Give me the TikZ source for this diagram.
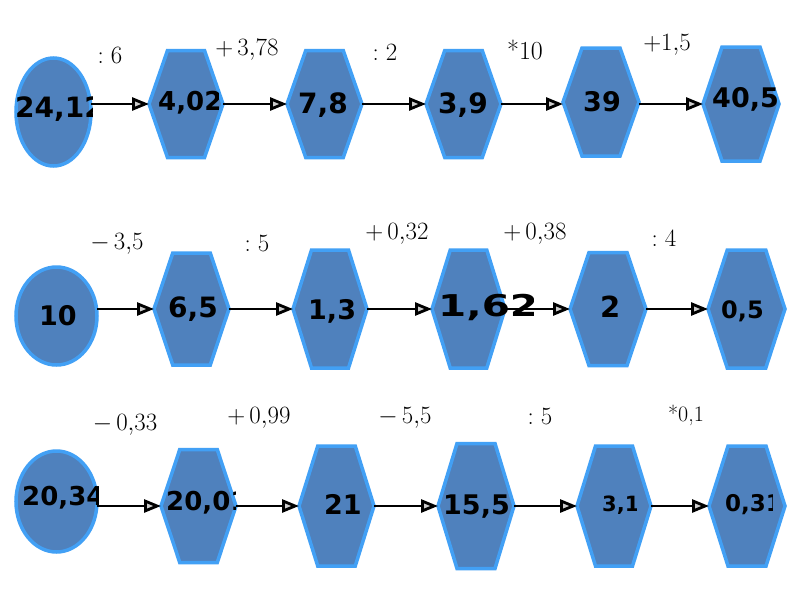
\documentclass[tikz,border=0pt]{standalone}
\usepackage{fontspec}
\newfontfamily\valfont{DejaVu Sans}
\usetikzlibrary{shapes.geometric, arrows.meta, calc}
\definecolor{shapefill}{RGB}{79,129,189}
\definecolor{shapeborder}{RGB}{66,160,245}
\tikzset{
  shapeline/.style={draw=shapeborder, fill=shapefill, line width=3.5pt, line join=miter},
  anchorbox/.style={rectangle, inner sep=0pt, outer sep=0pt},
  ovalnode/.style={ellipse, shapeline, inner sep=0pt, outer sep=0pt},
  flow/.style={line width=2.8pt, -{Triangle[length=17pt, width=13pt, fill=gray!40]}},
  oplabel/.style={inner sep=0pt, font=\fontsize{26}{26}\selectfont},
  valtext/.style={inner sep=0pt, anchor=base west},
}
\newcommand{\hexat}[5]{%
  \node[anchorbox, minimum width=#4pt, minimum height=#5pt] (#1) at (#2,#3) {};
  \path[shapeline] (#1.west) -- ($(#1.north west)!0.25!(#1.north east)$)
    -- ($(#1.north west)!0.75!(#1.north east)$) -- (#1.east)
    -- ($(#1.south west)!0.75!(#1.south east)$)
    -- ($(#1.south west)!0.25!(#1.south east)$) -- cycle;
}
\newcommand{\valat}[7]{%
  \begin{scope}
    \clip (#2-6, #3-40) rectangle (#5, #3+40);
    \node[valtext, font=\valfont\bfseries\fontsize{#4}{#4}\selectfont] (#1) at (#2, {#3+0.365*#4}) {\scalebox{#6}[1]{#7}};
  \end{scope}
}
\begin{document}
\begin{tikzpicture}[x=1pt, y=-1pt]
\fill[white] (0,0) rectangle (800,600);
\useasboundingbox (0,0) rectangle (800,600);

% row 1
\node[ovalnode, minimum width=75pt, minimum height=108pt] (e1) at (53.5,112) {};
\hexat{h1}{186}{104}{74}{107}
\hexat{h2}{324.5}{104}{75}{107}
\hexat{h3}{463.5}{104}{75}{107}
\hexat{h4}{601}{102}{76}{108}
\hexat{h5}{741}{104}{76}{114}

% row 2
\node[ovalnode, minimum width=81pt, minimum height=98pt] (e2) at (56.5,316) {};
\hexat{h6}{191.5}{309}{75}{112}
\hexat{h7}{330}{309}{74}{118}
\hexat{h8}{468.5}{309}{73}{118}
\hexat{h9}{608}{309}{76}{113}
\hexat{h10}{746.5}{309}{77}{118}

% row 3
\node[ovalnode, minimum width=81pt, minimum height=101pt] (e3) at (56.5,501.5) {};
\hexat{h11}{198.5}{506}{75}{113}
\hexat{h12}{336.5}{506}{75}{120}
\hexat{h13}{476}{506}{76}{125}
\hexat{h14}{614}{506}{74}{120}
\hexat{h15}{747}{506}{76}{120}

% arrows
\draw[flow] (e1.east |- h1.west) -- (h1.west);
\draw[flow] (h1.east) -- (h2.west);
\draw[flow] (h2.east) -- (h3.west);
\draw[flow] (h3.east) -- (h4.west |- h3.east);
\draw[flow] (h4.east |- h5.west) -- (h5.west);
\draw[flow] (e2.east |- h6.west) -- (h6.west);
\draw[flow] (h6.east) -- (h7.west);
\draw[flow] (h7.east) -- (h8.west);
\draw[flow] (h8.east) -- (h9.west);
\draw[flow] (h9.east) -- (h10.west);
\draw[flow] (e3.east |- h11.west) -- (h11.west);
\draw[flow] (h11.east) -- (h12.west);
\draw[flow] (h12.east) -- (h13.west);
\draw[flow] (h13.east) -- (h14.west);
\draw[flow] (h14.east) -- (h15.west);

% values
\valat{t1}{15}{107}{28}{92}{1}{24,12}
\valat{t2}{158}{101}{26}{218}{1}{4,02}
\valat{t3}{298}{103}{28}{900}{1}{7,8}
\valat{t4}{438}{103}{28}{900}{1}{3,9}
\valat{t5}{583}{102}{27}{900}{1}{39}
\valat{t6}{712}{98}{27}{777}{1}{40,5}
\valat{t7}{39}{316}{27}{900}{1}{10}
\valat{t8}{168}{307}{28}{900}{1}{6,5}
\valat{t9}{308}{310}{27}{900}{1}{1,3}
\valat{t10}{438}{306}{30}{533}{1.35}{1,62}
\valat{t11}{600}{307}{29}{900}{1}{2}
\valat{t12}{721}{310}{24}{900}{1}{0,5}
\valat{t13}{22}{496}{26}{98}{1}{20,34}
\valat{t14}{166}{501}{26}{235}{1}{20,01}
\valat{t15}{324}{505}{27}{900}{1}{21}
\valat{t16}{443}{505}{27}{510}{1}{15,5}
\valat{t17}{602}{504}{21}{636}{1}{3,1}
\valat{t18}{725}{503}{23}{772}{1}{0,31}

% operation labels
\node[oplabel] (l1) at (110,55) {$:6$};
\node[oplabel] (l2) at (247,50) {$+\,3{,}78$};
\node[oplabel] (l3) at (385,52) {$:2$};
\node[oplabel] (l4) at (525,50) {*10};
\node[oplabel, font=\fontsize{24}{24}\selectfont] (l5) at (667,45) {$+1{,}5$};
\node[oplabel] (l6) at (117,244) {$-\,3{,}5$};
\node[oplabel] (l7) at (257,243) {$:5$};
\node[oplabel] (l8) at (397,234) {$+\,0{,}32$};
\node[oplabel] (l9) at (535,234) {$+\,0{,}38$};
\node[oplabel] (l10) at (664,238) {$:4$};
\node[oplabel] (l11) at (125,425) {$-\,0{,}33$};
\node[oplabel] (l12) at (259,418) {$+\,0{,}99$};
\node[oplabel] (l13) at (405,418) {$-\,5{,}5$};
\node[oplabel] (l14) at (540,416) {$:5$};
\node[oplabel, font=\fontsize{22}{22}\selectfont] (l15) at (686,415) {*0,1};
\end{tikzpicture}
\end{document}
